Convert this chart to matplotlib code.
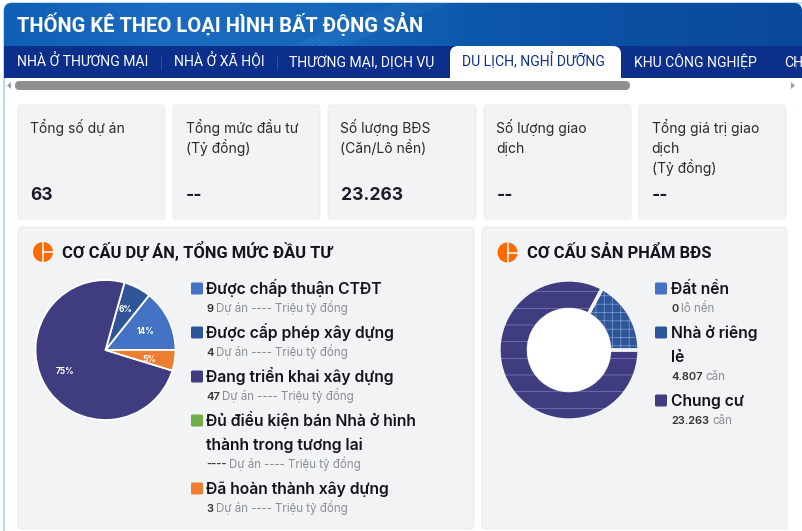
import numpy as np
import matplotlib
matplotlib.use("Agg")
import matplotlib.pyplot as plt
from matplotlib.patches import FancyBboxPatch, Rectangle, Polygon, Circle
from matplotlib.colors import LinearSegmentedColormap

plt.rcParams['font.family'] = ['Inter', 'Noto Sans', 'DejaVu Sans']
COND = ['Roboto', 'Noto Sans', 'DejaVu Sans']

title = "THỐNG KÊ THEO LOẠI HÌNH BẤT ĐỘNG SẢN"
tabs = ["NHÀ Ở THƯƠNG MẠI", "NHÀ Ở XÃ HỘI", "THƯƠNG MẠI, DỊCH VỤ", "DU LỊCH, NGHỈ DƯỠNG", "KHU CÔNG NGHIỆP", "CH"]
card_labels = ["Tổng số dự án", "Tổng mức đầu tư\n(Tỷ đồng)", "Số lượng BĐS\n(Căn/Lô nền)", "Số lượng giao\ndịch", "Tổng giá trị giao\ndịch\n(Tỷ đồng)"]
card_values = ["63", "--", "23.263", "--", "--"]

project_names = ["Được chấp thuận CTĐT", "Được cấp phép xây dựng", "Đang triển khai xây dựng",
                 "Đủ điều kiện bán Nhà ở hình\nthành trong tương lai", "Đã hoàn thành xây dựng"]
project_counts = [9, 4, 47, 0, 3]
project_count_text = ["9", "4", "47", "----", "3"]
project_colors = ["#4472c4", "#2f5597", "#3f3d80", "#70ad47", "#ed7d31"]
project_pct = ["14%", "6%", "75%", "", "5%"]

product_names = ["Đất nền", "Nhà ở riêng\nlẻ", "Chung cư"]
product_counts = [0, 4807, 23263]
product_text = ["0", "4.807", "23.263"]
product_units = ["lô nền", "căn", "căn"]
product_colors = ["#4472c4", "#2f5597", "#3f3d80"]

W, H = 802, 531
fig = plt.figure(figsize=(W/100, H/100), dpi=100, facecolor="white")
ax = fig.add_axes([0, 0, 1, 1])
ax.set_xlim(0, W); ax.set_ylim(H, 0); ax.axis("off")

def rbox(x0, y0, x1, y1, r=3, fc="#f2f3f4", ec="none", lw=0, z=1):
    p = FancyBboxPatch((x0+r, y0+r), x1-x0-2*r, y1-y0-2*r, boxstyle=f"round,pad={r},rounding_size={r}",
                       fc=fc, ec=ec, lw=lw, zorder=z)
    ax.add_patch(p)
    return p

def lines(x, y, s, step, **kw):
    for i, part in enumerate(s.split("\n")):
        ax.text(x, y + i*step, part, va="baseline", ha="left", zorder=3, **kw)

# outer frame
rbox(4, 3, 812, 540, r=8, fc="white", ec="#8fbfe6", lw=0.8, z=0)

# header gradient
cmap = LinearSegmentedColormap.from_list("h", ["#0f5fb4", "#1b6cc0", "#1668bb", "#0d57ab", "#0b4fa3", "#0a4a9c"])
grad = np.linspace(0, 1, 256).reshape(1, -1)
im = ax.imshow(grad, extent=(4, 802, 46, 3), cmap=cmap, aspect="auto", zorder=1)
clip = FancyBboxPatch((12, 11), 782, 60, boxstyle="round,pad=8,rounding_size=8", transform=ax.transData, fc="none", ec="none")
ax.add_patch(clip)
im.set_clip_path(clip)
ax.set_xlim(0, W); ax.set_ylim(H, 0)
t = np.linspace(0, 1, 60)
for i in range(9):
    ax.plot(300 + 100*t + i*6, 46 - 43*t**0.8, color="#5aa6e6", lw=0.5, alpha=0.28, zorder=2)
    ax.plot(290 + 90*t + i*4, 46 - 30*t + i*0.5, color="#5aa6e6", lw=0.4, alpha=0.18, zorder=2)
ax.text(17, 31.5, title, color="white", fontsize=14.5, fontweight="bold", family=COND, va="baseline", ha="left", zorder=3)

# tab bar
ax.add_patch(Rectangle((4, 46), 798, 32, fc="#0b2f8a", ec="none", zorder=2))
rbox(450, 46, 621, 90, r=8, fc="white", z=3)
ax.add_patch(Rectangle((450, 78), 171, 14, fc="white", ec="none", zorder=3))
tab_x = [17, 174, 289, 462, 634, 784]
for i, (x, s) in enumerate(zip(tab_x, tabs)):
    ax.text(x, 67, s, color="#0b2f8a" if i == 3 else "white", fontsize=10.1, family=COND, va="baseline", ha="left", zorder=4)
for x in [161, 277, 796]:
    ax.plot([x-0.5, x-0.5], [56, 69], color="#2a4fa3", lw=0.7, zorder=3)

# scroll bar
rbox(15, 81, 630, 90, r=4.5, fc="#8f8f8f", z=4)
ax.add_patch(Polygon([[7, 85.5], [11, 82], [11, 89]], fc="#a0a0a0", ec="none", zorder=4))
ax.add_patch(Polygon([[795, 85.5], [791, 82], [791, 89]], fc="#a0a0a0", ec="none", zorder=4))

# cards
card_x = [(18, 165), (173, 320), (328, 476), (484, 631), (639, 786)]
for (x0, x1), lab, val in zip(card_x, card_labels, card_values):
    rbox(x0, 105, x1, 219, r=3, fc="#f2f3f4", ec="#e9eaeb", lw=0.6)
    lines(x0+12.5, 133, lab, 20, fontsize=10, color="#2a2a2a")
    ax.text(x0+12.5, 200.5, val, fontsize=12.6, fontweight="bold", color="#1c1c2a", va="baseline", ha="left", zorder=3)

# panels
rbox(18, 227, 474, 529, r=3, fc="#f2f3f4", ec="#e9eaeb", lw=0.6)
rbox(482, 227, 787, 529, r=3, fc="#f2f3f4", ec="#e9eaeb", lw=0.6)

def icon(cx, cy, r=10):
    ax.add_patch(Circle((cx, cy), r, fc="#ff6a00", ec="none", zorder=3))
    ax.plot([cx, cx], [cy-r, cy+r], color="#f2f3f4", lw=1.2, zorder=4)
    ax.plot([cx, cx+r], [cy, cy], color="#f2f3f4", lw=1.2, zorder=4)

icon(43, 252); icon(507.5, 252.5)
ax.text(62, 258, "CƠ CẤU DỰ ÁN, TỔNG MỨC ĐẦU TƯ", fontsize=11.9, fontweight="bold", family=COND, color="#14141f", va="baseline", ha="left", zorder=3)
ax.text(527, 258, "CƠ CẤU SẢN PHẨM BĐS", fontsize=11.9, fontweight="bold", family=COND, color="#14141f", va="baseline", ha="left", zorder=3)

# project legend
legend_y = [288.5, 332.5, 376.5, 420.5, 488.5]
for name, cnt, col, y in zip(project_names, project_count_text, project_colors, legend_y):
    ax.add_patch(FancyBboxPatch((192, y-5), 10, 10, boxstyle="round,pad=1,rounding_size=1.5", fc=col, ec="none", zorder=3))
    lines(206, y+5.5, name, 24, fontsize=11.3, fontweight="semibold", color="#14141f")
    sub = y + 23.5 + (24 if "\n" in name else 0)
    t1 = ax.text(206.5, sub, cnt, fontsize=8, fontweight="semibold", color="#333333", va="baseline", ha="left", zorder=3)
    fig.canvas.draw()
    x1 = ax.transData.inverted().transform((t1.get_window_extent().x1, 0))[0]
    ax.text(x1 + 2, sub, "Dự án ---- Triệu tỷ đồng", fontsize=8.3, color="#8a8f94", va="baseline", ha="left", zorder=3)

# product legend
prod_y = [288.5, 332.5, 400.5]
for name, cnt, unit, col, y in zip(product_names, product_text, product_units, product_colors, prod_y):
    ax.add_patch(FancyBboxPatch((656, y-5), 10, 10, boxstyle="round,pad=1,rounding_size=1.5", fc=col, ec="none", zorder=3))
    lines(671, y+5.5, name, 24, fontsize=11.3, fontweight="semibold", color="#14141f")
    sub = y + 23.5 + (24 if "\n" in name else 0)
    t1 = ax.text(671, sub, cnt, fontsize=8, fontweight="semibold", color="#333333", va="baseline", ha="left", zorder=3)
    fig.canvas.draw()
    x1 = ax.transData.inverted().transform((t1.get_window_extent().x1, 0))[0]
    ax.text(x1 + 3, sub, unit, fontsize=8.3, color="#8a8f94", va="baseline", ha="left", zorder=3)

def inset(cx, cy, r):
    a = fig.add_axes([(cx-r)/W, 1-(cy+r)/H, 2*r/W, 2*r/H])
    a.set_xlim(-1, 1); a.set_ylim(-1, 1); a.set_aspect("equal"); a.axis("off")
    return a

# pie
a1 = inset(105.5, 350, 70)
pv = [v for v in project_counts if v > 0]
pc = [c for v, c in zip(project_counts, project_colors) if v > 0]
pl = [l for v, l in zip(project_counts, project_pct) if v > 0]
a1.pie(pv, colors=pc, startangle=0, counterclock=True, radius=1.0,
       wedgeprops=dict(edgecolor="white", linewidth=1.3))
a1.set_xlim(-1, 1); a1.set_ylim(-1, 1)

# overlay for pie percent labels
top = fig.add_axes([0, 0, 1, 1], facecolor="none")
top.set_xlim(0, W); top.set_ylim(H, 0); top.axis("off")
label_px = {"14%": (145.5, 331), "6%": (125.5, 310), "75%": (65, 372), "5%": (149, 359)}
for l in pl:
    px, py = label_px[l]
    top.text(px, py, l, fontsize=6, fontweight="bold", color="white", va="center", ha="center")

# donut
plt.rcParams['hatch.linewidth'] = 0.5
a2 = inset(569, 350, 70)
dv = [v for v in product_counts if v > 0]
dc = [c for v, c in zip(product_counts, product_colors) if v > 0]
hatches = ["++", "-"]
hatch_cols = ["#7f9fd8", "#7f7dba"]
wd, _ = a2.pie(dv, colors=dc, startangle=0, counterclock=True, radius=1.0,
               wedgeprops=dict(width=0.42, linewidth=0))
for w, h, c in zip(wd, hatches, hatch_cols):
    w.set_hatch(h)
    w.set_edgecolor(c)
a2.pie(dv, colors=["none"]*len(dv), startangle=0, counterclock=True, radius=1.0,
       wedgeprops=dict(width=0.42, edgecolor="#f2f3f4", linewidth=2.4))
a2.add_patch(Circle((0, 0), 0.59, fc="white", ec="none", zorder=20))
a2.set_xlim(-1, 1); a2.set_ylim(-1, 1)
fig.savefig("out.png", dpi=100)
